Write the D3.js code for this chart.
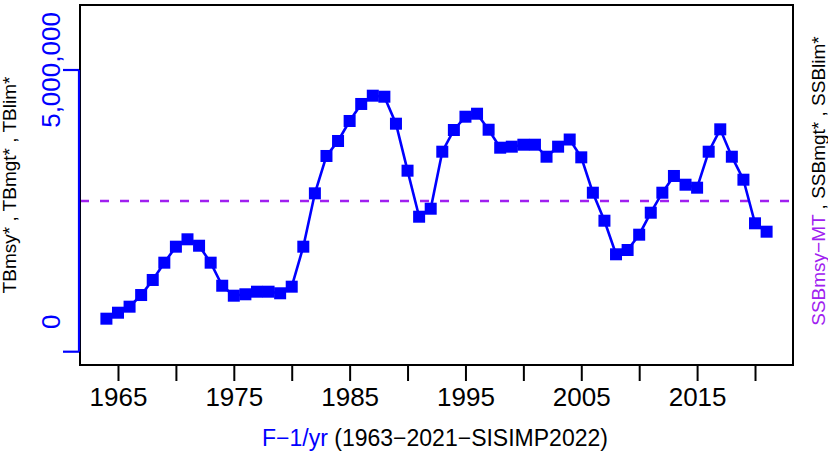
<!DOCTYPE html>
<html><head><meta charset="utf-8">
<script src="https://cdn.jsdelivr.net/npm/d3@7/dist/d3.min.js"></script>
<style>body{margin:0;background:#fff}svg{display:block}text{font-family:"Liberation Sans",Arial,sans-serif}</style>
</head><body>
<script>
const years = [1964,1965,1966,1967,1968,1969,1970,1971,1972,1973,1974,1975,1976,1977,1978,1979,1980,1981,1982,1983,1984,1985,1986,1987,1988,1989,1990,1991,1992,1993,1994,1995,1996,1997,1998,1999,2000,2001,2002,2003,2004,2005,2006,2007,2008,2009,2010,2011,2012,2013,2014,2015,2016,2017,2018,2019,2020,2021];
const biomass = [586000,692000,799000,1006000,1273000,1580000,1864000,1995000,1881000,1580000,1171000,994000,1019000,1065000,1065000,1037000,1154000,1864000,2811000,3474000,3740000,4095000,4397000,4544000,4526000,4047000,3213000,2396000,2538000,3550000,3935000,4171000,4224000,3940000,3621000,3639000,3674000,3674000,3461000,3639000,3766000,3450000,2822000,2325000,1729000,1805000,2077000,2467000,2822000,3119000,2964000,2911000,3550000,3947000,3461000,3053000,2279000,2130000];
const refLine = 2675000;
const xTicks = [1965,1970,1975,1980,1985,1990,1995,2000,2005,2010,2015,2020];
const xTickLabels = ["1965","","1975","","1985","","1995","","2005","","2015",""];
const yTicks = [0, 5000000];
const yTickLabels = ["0","5,000,000"];

const W = 828, H = 460;
const box = {left: 80, right: 793, top: 5, bottom: 365};
const svg = d3.select("body").append("svg").attr("width", W).attr("height", H);

const xPad = (d3.max(years) - d3.min(years)) * 0.04;
const x = d3.scaleLinear().domain([d3.min(years) - xPad, d3.max(years) + xPad]).range([box.left, box.right]);
const y = d3.scaleLinear().domain([0, 5000000]).range([351.7, 70]);

// reference dashed line
svg.append("line")
  .attr("x1", box.left).attr("x2", box.right)
  .attr("y1", y(refLine)).attr("y2", y(refLine))
  .attr("stroke", "#A020F0").attr("stroke-width", 2.5).attr("stroke-dasharray", "9,11");

// series line
const pts = years.map((yr, i) => [yr, biomass[i]]);
svg.append("path").datum(pts)
  .attr("fill", "none").attr("stroke", "#0000FF").attr("stroke-width", 2.6)
  .attr("d", d3.line().x(d => x(d[0])).y(d => y(d[1])));
svg.selectAll("rect.pt").data(pts).enter().append("rect")
  .attr("class", "pt")
  .attr("x", d => x(d[0]) - 6).attr("y", d => y(d[1]) - 6)
  .attr("width", 12).attr("height", 12).attr("fill", "#0000FF");

// box
svg.append("rect").attr("x", box.left).attr("y", box.top)
  .attr("width", box.right - box.left).attr("height", box.bottom - box.top)
  .attr("fill", "none").attr("stroke", "#000").attr("stroke-width", 2);

// x axis
const xAxis = d3.axisBottom(x).tickValues(xTicks).tickSize(16).tickPadding(6)
  .tickFormat((d, i) => xTickLabels[i]);
const gx = svg.append("g").attr("transform", `translate(0,${box.bottom})`).call(xAxis);
gx.select(".domain").remove();
gx.selectAll(".tick line").attr("stroke", "#000").attr("stroke-width", 2);
gx.selectAll(".tick text").attr("font-size", 26).attr("fill", "#000")
  .attr("font-family", "Liberation Sans, Arial, sans-serif").attr("dy", "0.72em");

// y axis (blue)
const gy = svg.append("g");
gy.append("line").attr("x1", box.left - 1).attr("x2", box.left - 1)
  .attr("y1", y(yTicks[0])).attr("y2", y(yTicks[1]))
  .attr("stroke", "#0000FF").attr("stroke-width", 2.2);
gy.selectAll("line.tk").data(yTicks).enter().append("line")
  .attr("x1", box.left - 17).attr("x2", box.left - 1)
  .attr("y1", d => y(d)).attr("y2", d => y(d))
  .attr("stroke", "#0000FF").attr("stroke-width", 2.2);
// label offsets as in the reference (the "0" label sits above its tick)
const yLabelShift = [-30, 0];
gy.selectAll("text.tl").data(yTicks).enter().append("text")
  .attr("transform", (d, i) => `translate(60,${y(d) + yLabelShift[i]}) rotate(-90)`)
  .attr("text-anchor", "middle").attr("font-size", 26).attr("fill", "#0000FF")
  .text((d, i) => yTickLabels[i]);

// left title
svg.append("text")
  .attr("transform", "translate(16,185) rotate(-90)")
  .attr("text-anchor", "middle").attr("font-size", 19).attr("fill", "#000")
  .text("TBmsy* , TBmgt* , TBlim*");

// right title
const rt = svg.append("text")
  .attr("transform", "translate(825,181) rotate(-90)")
  .attr("text-anchor", "middle").attr("font-size", 19);
rt.append("tspan").attr("fill", "#A020F0").text("SSBmsy\u2212MT");
rt.append("tspan").attr("fill", "#000").text(" , SSBmgt* , SSBlim*");

// bottom title
const bt = svg.append("text")
  .attr("x", 435).attr("y", 446)
  .attr("text-anchor", "middle").attr("font-size", 23);
bt.append("tspan").attr("fill", "#0000FF").text("F\u22121/yr");
bt.append("tspan").attr("fill", "#000").text(" (1963\u22122021\u2212SISIMP2022)");
</script>
</body></html>
